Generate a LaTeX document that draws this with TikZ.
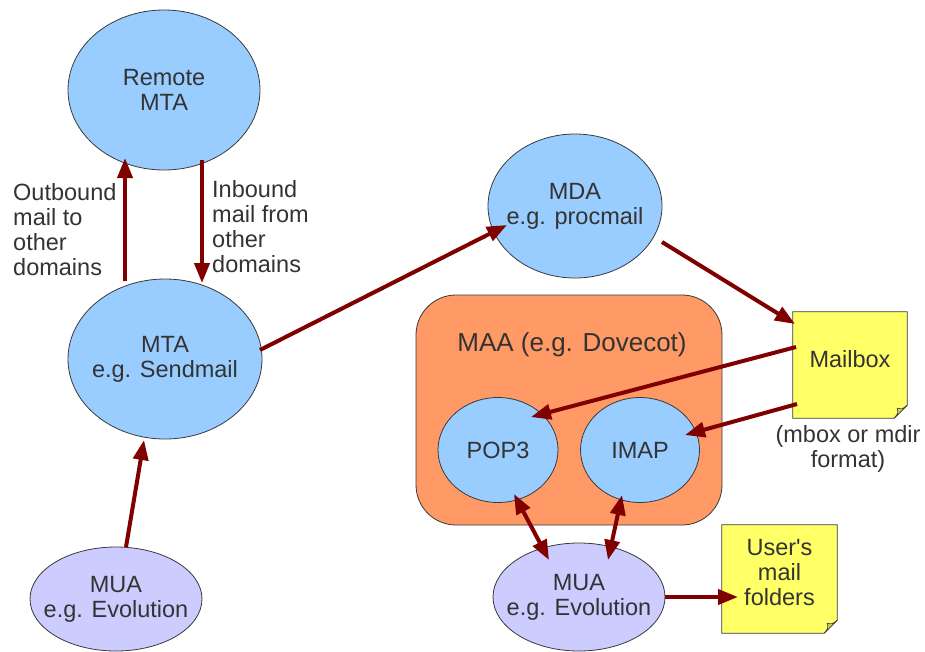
\documentclass[tikz,border=0pt]{standalone}
\usepackage{fontspec}
\setmainfont{Liberation Sans}
\usetikzlibrary{shapes.geometric,arrows.meta,backgrounds}
\definecolor{arr}{HTML}{800000}
\definecolor{blue1}{HTML}{99CCFF}
\definecolor{lav}{HTML}{CCCCFF}
\definecolor{orng}{HTML}{FF9966}
\definecolor{yel}{HTML}{FFFF66}
\definecolor{foldc}{HTML}{CCCC55}
\definecolor{txt}{HTML}{333333}
\definecolor{edge}{HTML}{3A3A3A}
\begin{document}
\begin{tikzpicture}[x=1pt,y=-1pt,
  every node/.style={text=txt, font=\fontsize{23.5pt}{25pt}\selectfont, align=center, inner sep=0pt},
  bub/.style={ellipse, draw=edge, line width=0.8pt, fill=blue1, inner xsep=-25pt, inner ysep=0pt},
  lbub/.style={ellipse, draw=edge, line width=0.8pt, fill=lav, inner xsep=-25pt, inner ysep=0pt},
  notebox/.style={rectangle, draw=none},
  noteline/.style={draw=edge, line width=0.8pt, fill=yel},
  conn/.style={draw=arr, line width=4pt, -{Triangle[length=20pt,width=15pt]}},
  dconn/.style={draw=arr, line width=4pt, {Triangle[length=20pt,width=15pt]}-{Triangle[length=20pt,width=15pt]}}]
\useasboundingbox (0,0) rectangle (925,651);

% nodes
\node[bub, minimum width=192pt, minimum height=160pt] (rmta) at (164,90) {Remote\\MTA};
\node[bub, minimum width=194pt, minimum height=160pt] (mta) at (165,359) {MTA\\e.g. Sendmail};
\node[lbub, minimum width=172pt, minimum height=104pt] (muaL) at (116,599) {MUA\\e.g. Evolution};
\node[bub, minimum width=174pt, minimum height=144pt] (mda) at (575,206) {MDA\\e.g. procmail};
\node[rectangle, rounded corners=40pt, draw=edge, line width=0.8pt, fill=orng, minimum width=306pt, minimum height=230pt] (maa) at (569,410) {};
\node[font=\fontsize{26pt}{28pt}\selectfont] (maat) at (572,345) {MAA (e.g. Dovecot)};
\node[bub, minimum width=120pt, minimum height=105pt] (pop) at (498,450) {POP3};
\node[bub, minimum width=119pt, minimum height=105pt] (imap) at (640,450) {IMAP};
\node[lbub, minimum width=172pt, minimum height=108pt] (muaR) at (579,597) {MUA\\e.g. Evolution};

\node[notebox, minimum width=114pt, minimum height=106pt] (mb) at (850,365) {};
\node (mbt) at (850,359) {Mailbox};
\node (fmt) at (848,449) {(mbox or mdir\\format)};
\node[notebox, minimum width=115pt, minimum height=108pt] (uf) at (779.5,579) {};
\node (uft) at (779.5,573) {User\textquotesingle s\\mail\\folders};

\node[anchor=west, align=left] (outl) at (13,230) {Outbound\\mail to\\other\\domains};
\node[anchor=west, align=left] (inl) at (212,226.5) {Inbound\\mail from\\other\\domains};

\begin{scope}[on background layer]
  \foreach \n in {mb,uf}{
    \draw[noteline] (\n.north west) -- (\n.north east) -- ([yshift=13pt]\n.south east)
      -- ([xshift=-13pt]\n.south east) -- (\n.south west) -- cycle;
    \filldraw[draw=edge, line width=0.6pt, fill=foldc] ([yshift=13pt]\n.south east)
      .. controls ([shift={(-5pt,9pt)}]\n.south east) .. ([shift={(-10pt,10pt)}]\n.south east)
      .. controls ([shift={(-9pt,5pt)}]\n.south east) .. ([xshift=-13pt]\n.south east) -- cycle;
  }
\end{scope}

% connectors
\draw[conn] ([shift={(-40,-78)}]mta.center) -- ([shift={(-39,68)}]rmta.center);
\draw[conn] ([shift={(38,70)}]rmta.center) -- ([shift={(37,-76)}]mta.center);
\draw[conn] ([shift={(10,-52)}]muaL.center) -- ([shift={(-21,81)}]mta.center);
\draw[conn] ([shift={(95,-9)}]mta.center) -- ([shift={(-68,19)}]mda.center);
\draw[conn] ([shift={(87,36)}]mda.center) -- ([shift={(-55,-41)}]mb.center);
\draw[conn] ([shift={(-54,-18)}]mb.center) -- ([shift={(33,-33)}]pop.center);
\draw[conn] ([shift={(-53,39)}]mb.center) -- ([shift={(45,-15)}]imap.center);
\draw[dconn] ([shift={(16,44)}]pop.center) -- ([shift={(-30,-37)}]muaR.center);
\draw[dconn] ([shift={(-18,45)}]imap.center) -- ([shift={(29,-37)}]muaR.center);
\draw[conn] ([shift={(86,0)}]muaR.center) -- ([shift={(-41.5,18)}]uf.center);
\end{tikzpicture}
\end{document}
